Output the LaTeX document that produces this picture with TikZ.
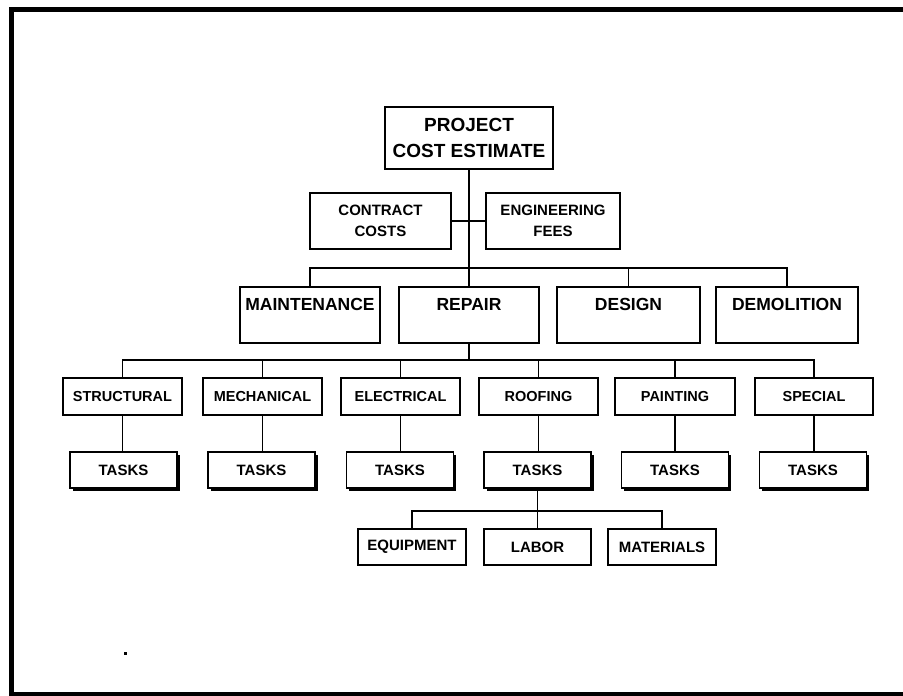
\documentclass[tikz,border=0pt]{standalone}
\usepackage{fontspec}
\setmainfont{Liberation Sans}
\usetikzlibrary{shadows}
\newcommand{\fs}[2]{\fontsize{#1}{#2}\selectfont\bfseries}
\begin{document}
\begin{tikzpicture}[x=1pt,y=-1pt,
  box/.style={draw, line width=1.8pt, fill=white, rectangle, inner sep=0pt, align=center},
  titlebox/.style={box, line width=2pt, minimum width=168pt, minimum height=62pt, font=\fs{19}{26.5}},
  subbox/.style={box, minimum height=56pt, font=\fs{15}{21}},
  catbox/.style={box, minimum width=141pt, minimum height=56pt},
  cattext/.style={font=\fs{17.5}{20}, inner sep=0pt},
  discbox/.style={box, minimum width=119pt, minimum height=37pt, font=\fs{14.5}{16}},
  taskbox/.style={box, minimum width=107pt, minimum height=36pt, font=\fs{15}{16},
     general shadow={fill=black, shadow xshift=2.6pt, shadow yshift=-2.6pt}},
  resbox/.style={box, minimum width=108pt, minimum height=36pt, font=\fs{15}{16}},
  conn/.style={draw, line width=1.8pt},
  frame/.style={draw, line width=5pt}
]
\useasboundingbox (0,0) rectangle (903,696);
% frame
\draw[frame] (903,9) -- (11,9) -- (11,696);
\draw[line width=4pt] (11,694) -- (903,694);
\fill (124,652) rectangle (126.5,654.5);

% title
\node[titlebox] (title) at (469,138) {PROJECT\\COST ESTIMATE};
% sub boxes
\node[subbox, minimum width=141pt] (contract) at (380.5,221) {CONTRACT\\COSTS};
\node[subbox, minimum width=134pt] (eng) at (553,221) {ENGINEERING\\FEES};
% categories
\node[catbox, minimum width=140pt] (maint) at (310,315) {};
\node[catbox, minimum width=140pt] (repair) at (469,315) {};
\node[catbox, minimum width=143pt] (design) at (628.5,315) {};
\node[catbox, minimum width=142pt] (demol) at (787,315) {};
\node[cattext] at ([yshift=-18.5pt]maint.north) {MAINTENANCE};
\node[cattext] at ([yshift=-18.5pt]repair.north) {REPAIR};
\node[cattext] at ([yshift=-18.5pt]design.north) {DESIGN};
\node[cattext] at ([yshift=-18.5pt]demol.north) {DEMOLITION};
% disciplines
\node[discbox] (struct) at (122.5,396.5) {STRUCTURAL};
\node[discbox] (mech) at (262.5,396.5) {MECHANICAL};
\node[discbox] (elec) at (400.5,396.5) {ELECTRICAL};
\node[discbox] (roof) at (538.5,396.5) {ROOFING};
\node[discbox, minimum width=120pt] (paint) at (675,396.5) {PAINTING};
\node[discbox, minimum width=118pt] (spec) at (814,396.5) {SPECIAL};
% tasks
\node[taskbox] (t1) at (123.5,470) {TASKS};
\node[taskbox] (t2) at (261.5,470) {TASKS};
\node[taskbox] (t3) at (400,470) {TASKS};
\node[taskbox] (t4) at (537.5,470) {TASKS};
\node[taskbox] (t5) at (675,470) {TASKS};
\node[taskbox] (t6) at (813,470) {TASKS};
% resources
\node[resbox] (equip) at (412,547) {EQUIPMENT};
\node[resbox, minimum width=107pt] (labor) at (537.5,547) {LABOR};
\node[resbox] (mat) at (662,547) {MATERIALS};

% connectors
\draw[conn] (title.south) -- (repair.north);
\draw[conn] (contract.east) -- (eng.west);
\draw[conn] (maint.north) -- (maint.north |- 0,268) -- (demol.north |- 0,268) -- (demol.north);
\draw[conn] (design.north |- 0,268) -- (design.north);
\draw[conn] (repair.south) -- (repair.south |- 0,360);
\draw[conn] (struct.north) -- (struct.north |- 0,360) -- (spec.north |- 0,360) -- (spec.north);
\foreach \n in {mech,elec,roof,paint}
  \draw[conn] (\n.north |- 0,360) -- (\n.north);
\draw[conn] (struct.south) -- (struct.south |- t1.north);
\draw[conn] (mech.south) -- (mech.south |- t2.north);
\draw[conn] (elec.south) -- (elec.south |- t3.north);
\draw[conn] (roof.south) -- (roof.south |- t4.north);
\draw[conn] (paint.south) -- (paint.south |- t5.north);
\draw[conn] (spec.south) -- (spec.south |- t6.north);
\draw[conn] (t4.south) -- (labor.north);
\draw[conn] (equip.north) -- (equip.north |- 0,511) -- (mat.north |- 0,511) -- (mat.north);
\end{tikzpicture}
\end{document}
